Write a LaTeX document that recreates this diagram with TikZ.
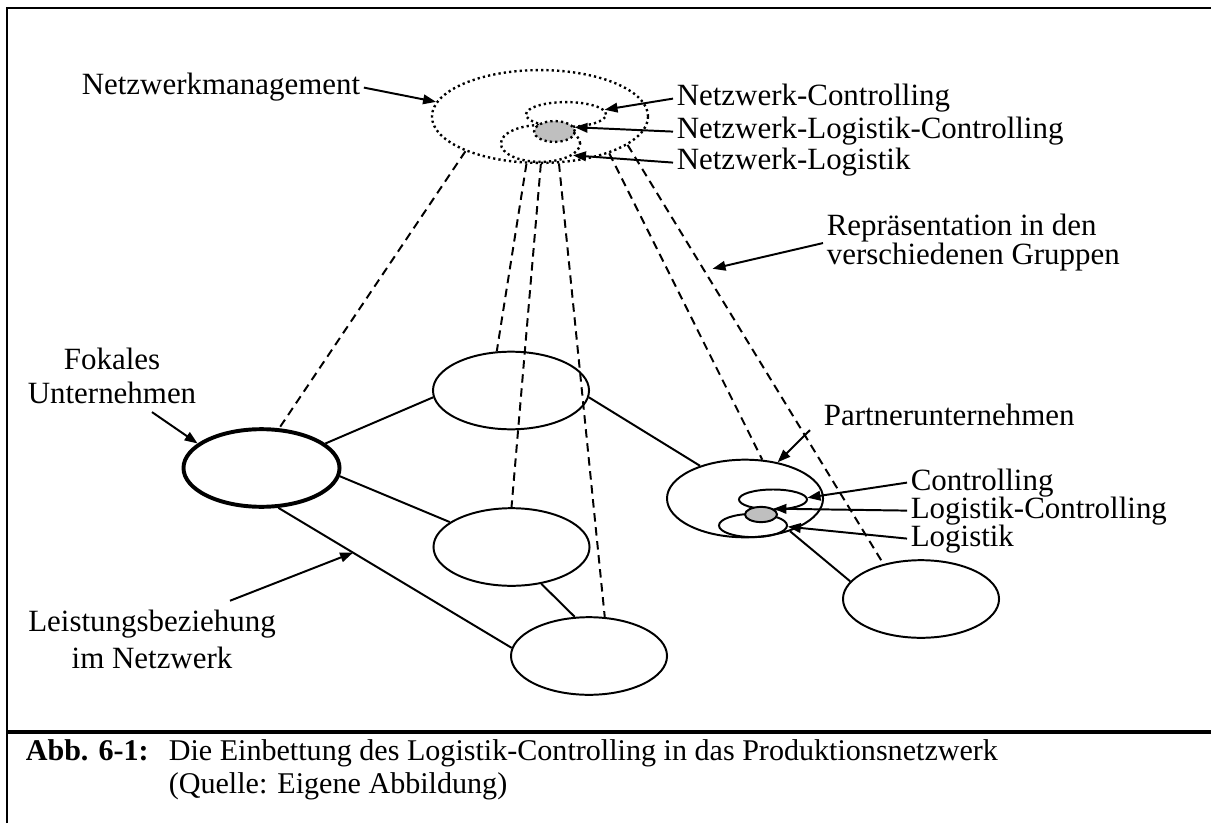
\documentclass[tikz,border=0pt]{standalone}
\usepackage{fontspec}
\setmainfont{Liberation Serif}
\usetikzlibrary{shapes.geometric,arrows.meta,calc}

\begin{document}
\begin{tikzpicture}[x=0.0125cm,y=-0.0125cm,line width=0.7pt,
                    >={Triangle[length=4.6pt,width=3.4pt]}]
  \tikzset{
    firm/.style={ellipse,draw,minimum width=1.95cm,minimum height=0.97cm,inner sep=0pt},
    grpell/.style={ellipse,draw,dash pattern=on 0.8pt off 1.1pt,line width=0.85pt,inner sep=0pt},
    repline/.style={dash pattern=on 3pt off 2pt},
    lbl/.style={inner sep=1pt,font=\fontsize{11}{13}\selectfont},
    caplbl/.style={inner sep=1pt,font=\fontsize{10.7}{13}\selectfont},
  }
  \useasboundingbox (0,0) rectangle (1211,823);

  % frame and caption rule
  \draw (7,823) -- (7,8) -- (1211,8);
  \draw[line width=1.2pt] (7,732) -- (1211,732);

  % network management (top)
  \node[grpell,minimum width=2.7cm,minimum height=1.16cm] (nm) at (540,116.5) {};
  \node[grpell,minimum width=1.0cm,minimum height=0.31cm] (nc) at (566,114.5) {};
  \node[grpell,minimum width=0.99cm,minimum height=0.46cm] (nl) at (540.5,143.5) {};
  \node[grpell,fill=black!25,minimum width=0.51cm,minimum height=0.26cm] (ngrey) at (554.5,131.5) {};

  % companies
  \node[firm,line width=1.4pt] (fok) at (261.5,468) {};
  \node[firm] (tm)   at (511,390.5) {};
  \node[firm] (mid)  at (511.5,547) {};
  \node[firm] (bot)  at (589,656) {};
  \node[firm] (par)  at (745,498.5) {};
  \node[firm] (last) at (921,599) {};

  % partner: controlling / logistics
  \node[ellipse,draw,inner sep=0pt,minimum width=0.85cm,minimum height=0.25cm] (pc) at (773,499.5) {};
  \node[ellipse,draw,inner sep=0pt,minimum width=0.85cm,minimum height=0.29cm] (pl) at (753,525.5) {};
  \node[ellipse,draw,fill=black!25,inner sep=0pt,minimum width=0.4cm,minimum height=0.19cm] (pgrey) at (761,514.5) {};

  % performance relations
  \draw (fok.21) -- (tm.185);
  \draw (fok.354) -- (mid.158);
  \draw (fok.293) -- coordinate[pos=0.32] (lbtip) (bot.174);
  \draw (mid.309) -- (bot.110);
  \draw (tm.355) -- (par.144);
  \draw (par.324) -- (last.166);

  % representation in the groups
  \draw[repline] (nm.205) -- (fok.66);
  \draw[repline] (nm.254) -- (tm.110);
  \draw[repline] (nm.271) -- (mid.90);
  \draw[repline] (nm.292) -- (bot.68);
  \draw[repline] (nm.332) -- (par.66);
  \draw[repline] (nm.342) -- coordinate[pos=0.3] (reptip) (last.137);

  % labels
  \node[lbl,anchor=base west] (nmlbl)  at (78,95)   {Netzwerkmanagement};
  \node[lbl,anchor=base west] (nclbl)  at (673,106) {Netzwerk-Controlling};
  \node[lbl,anchor=base west] (nlclbl) at (673,139) {Netzwerk-Logistik-Controlling};
  \node[lbl,anchor=base west] (nllbl)  at (673,170) {Netzwerk-Logistik};
  \node[lbl,anchor=base west] (rep1)   at (823,236) {Repräsentation in den};
  \node[lbl,anchor=base west] (rep2)   at (823,265) {verschiedenen Gruppen};
  \node[lbl,anchor=base] (fu1) at (112,370) {Fokales};
  \node[lbl,anchor=base] (fu2) at (112,403) {Unternehmen};
  \node[lbl,anchor=base] (lb1) at (152,631) {Leistungsbeziehung};
  \node[lbl,anchor=base] (lb2) at (152,668) {im Netzwerk};
  \node[lbl,anchor=base west] (pu)     at (820,425) {Partnerunternehmen};
  \node[lbl,anchor=base west] (pclbl)  at (907,490) {Controlling};
  \node[lbl,anchor=base west] (plclbl) at (907,518) {Logistik-Controlling};
  \node[lbl,anchor=base west] (pllbl)  at (907,546) {Logistik};

  \draw[->] (nmlbl.east) -- (nm.172);
  \draw[->] (nclbl.west) -- (nc.7);
  \draw[->] (nlclbl.west) -- (ngrey.12);
  \draw[->] (nllbl.west) -- (nl.340);
  \draw[->,shorten >=3pt] ($(rep1.west)!0.5!(rep2.west)$) -- (reptip);
  \draw[->] ($(fu2.south)+(40,5)$) -- (fok.159);
  \draw[->] ($(lb1.north)+(78,-5)$) -- (lbtip);
  \draw[->] ($(pu.south west)+(-10,1)$) -- (par.48);
  \draw[->] (pclbl.west) -- (pc.3);
  \draw[->] (plclbl.west) -- (pgrey.25);
  \draw[->] (pllbl.west) -- (pl.-2);

  % caption
  \node[caplbl,anchor=base west,font=\fontsize{10.7}{13}\selectfont\bfseries] (abb) at (22,760) {Abb. 6-1:};
  \node[caplbl,anchor=base west] (cap1) at (165,760) {Die Einbettung des Logistik-Controlling in das Produktionsnetzwerk};
  \node[caplbl,anchor=base west] (cap2) at (165,793) {(Quelle: Eigene Abbildung)};
\end{tikzpicture}
\end{document}
